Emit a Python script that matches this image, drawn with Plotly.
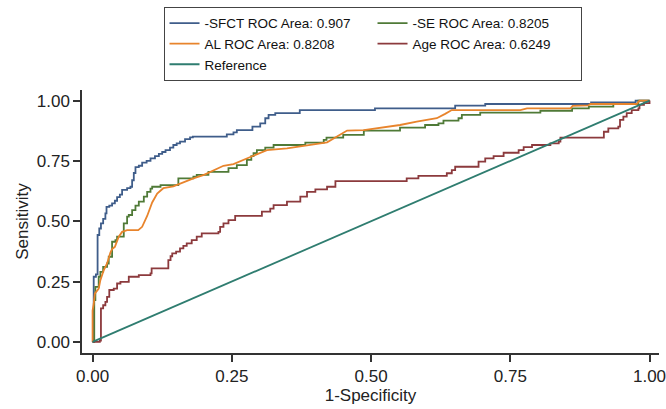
import plotly.graph_objects as go

# ---- data ----
sfct_x = [0, 0.002, 0.006, 0.009, 0.012, 0.015, 0.019, 0.023, 0.025, 0.03, 0.035, 0.04, 0.044, 0.049, 0.053,
          0.062, 0.068, 0.071, 0.074, 0.077, 0.083, 0.089, 0.097, 0.104, 0.112, 0.119, 0.125, 0.131, 0.139,
          0.145, 0.151, 0.157, 0.166, 0.175, 0.18, 0.241, 0.253, 0.259, 0.287, 0.301, 0.31, 0.316, 0.328,
          0.372, 0.507, 0.651, 0.705, 0.895, 0.975, 1.0]
sfct_y = [0, 0.27, 0.28, 0.443, 0.47, 0.491, 0.51, 0.533, 0.56, 0.565, 0.574, 0.585, 0.60, 0.61, 0.63,
          0.637, 0.643, 0.67, 0.70, 0.724, 0.73, 0.743, 0.75, 0.761, 0.77, 0.779, 0.787, 0.795, 0.805,
          0.816, 0.823, 0.83, 0.84, 0.848, 0.851, 0.86, 0.868, 0.878, 0.892, 0.906, 0.927, 0.941, 0.948,
          0.961, 0.968, 0.979, 0.986, 0.993, 1.0, 1.0]

se_x = [0, 0.003, 0.005, 0.011, 0.014, 0.019, 0.026, 0.029, 0.035, 0.041, 0.044, 0.056, 0.062, 0.065, 0.071,
        0.077, 0.083, 0.092, 0.098, 0.104, 0.107, 0.122, 0.154, 0.181, 0.187, 0.208, 0.244, 0.259, 0.277,
        0.285, 0.289, 0.295, 0.31, 0.325, 0.382, 0.415, 0.42, 0.45, 0.487, 0.552, 0.597, 0.621, 0.63,
        0.657, 0.663, 0.696, 0.804, 0.861, 0.891, 0.935, 0.98, 1.0]
se_y = [0, 0.173, 0.228, 0.27, 0.29, 0.311, 0.325, 0.353, 0.415, 0.422, 0.436, 0.491, 0.519, 0.526, 0.546,
        0.565, 0.581, 0.602, 0.622, 0.635, 0.643, 0.65, 0.678, 0.685, 0.692, 0.705, 0.72, 0.733, 0.754,
        0.77, 0.782, 0.795, 0.805, 0.816, 0.826, 0.837, 0.847, 0.858, 0.876, 0.888, 0.899, 0.906, 0.917,
        0.927, 0.941, 0.95, 0.958, 0.968, 0.975, 0.986, 1.0, 1.0]

al_x = [0, 0, 0.002, 0.004, 0.011, 0.014, 0.02, 0.026, 0.032, 0.035, 0.04, 0.047, 0.053, 0.062, 0.082,
        0.089, 0.098, 0.107, 0.116, 0.127, 0.145, 0.157, 0.181, 0.2, 0.211, 0.235, 0.253, 0.277, 0.313,
        0.349, 0.373, 0.397, 0.421, 0.439, 0.457, 0.487, 0.522, 0.552, 0.582, 0.618, 0.633, 0.645, 0.768,
        0.78, 0.858, 0.862, 0.89, 0.894, 0.977, 0.982, 1.0]
al_y = [0, 0.13, 0.157, 0.2, 0.221, 0.256, 0.297, 0.325, 0.37, 0.385, 0.394, 0.436, 0.456, 0.463, 0.463,
        0.477, 0.522, 0.578, 0.615, 0.637, 0.645, 0.657, 0.678, 0.692, 0.705, 0.73, 0.737, 0.761, 0.795,
        0.802, 0.812, 0.819, 0.827, 0.851, 0.876, 0.878, 0.89, 0.899, 0.913, 0.927, 0.945, 0.961, 0.961,
        0.968, 0.968, 0.978, 0.98, 0.986, 0.986, 1.0, 1.0]

age_x = [0, 0.013, 0.015, 0.019, 0.023, 0.026, 0.03, 0.038, 0.044, 0.05, 0.065, 0.083, 0.104, 0.106, 0.136,
         0.14, 0.143, 0.15, 0.157, 0.163, 0.169, 0.178, 0.187, 0.196, 0.226, 0.229, 0.235, 0.244, 0.256,
         0.304, 0.319, 0.325, 0.349, 0.373, 0.385, 0.4, 0.421, 0.436, 0.564, 0.585, 0.636, 0.645, 0.651,
         0.693, 0.705, 0.72, 0.738, 0.765, 0.774, 0.789, 0.822, 0.837, 0.84, 0.918, 0.926, 0.944, 0.947,
         0.953, 0.959, 0.968, 0.98, 0.982, 0.99, 1.0]
age_y = [0, 0.005, 0.139, 0.152, 0.166, 0.187, 0.215, 0.221, 0.242, 0.249, 0.27, 0.277, 0.284, 0.305, 0.339,
         0.355, 0.367, 0.374, 0.388, 0.398, 0.408, 0.422, 0.436, 0.45, 0.456, 0.477, 0.491, 0.505, 0.522,
         0.54, 0.552, 0.567, 0.581, 0.602, 0.622, 0.632, 0.643, 0.666, 0.678, 0.688, 0.699, 0.712, 0.726,
         0.747, 0.761, 0.77, 0.784, 0.795, 0.807, 0.816, 0.823, 0.83, 0.847, 0.871, 0.885, 0.892, 0.92,
         0.934, 0.948, 0.961, 0.968, 0.982, 0.99, 1.0]

ref_x = [0, 1]
ref_y = [0, 1]

tick_vals = [0, 0.25, 0.5, 0.75, 1.0]
tick_text = ["0.00", "0.25", "0.50", "0.75", "1.00"]

names = ["-SFCT ROC Area: 0.907", "-SE ROC Area: 0.8205", "AL ROC Area: 0.8208",
         "Age ROC Area: 0.6249", "Reference"]

FONT = "Liberation Sans, Arial, sans-serif"
LW = 1.8

fig = go.Figure()
fig.add_trace(go.Scatter(x=sfct_x, y=sfct_y, mode="lines", name=names[0],
                         line=dict(color="#3f5d8a", width=LW, shape="hv")))
fig.add_trace(go.Scatter(x=se_x, y=se_y, mode="lines", name=names[1],
                         line=dict(color="#4f7a37", width=LW, shape="hv")))
fig.add_trace(go.Scatter(x=al_x, y=al_y, mode="lines", name=names[2],
                         line=dict(color="#e8842c", width=LW)))
fig.add_trace(go.Scatter(x=age_x, y=age_y, mode="lines", name=names[3],
                         line=dict(color="#8c3a3d", width=LW, shape="hv")))
fig.add_trace(go.Scatter(x=ref_x, y=ref_y, mode="lines", name=names[4],
                         line=dict(color="#2f7d70", width=LW)))

axis_common = dict(
    showline=True, linecolor="#333333", linewidth=1.5,
    ticks="outside", ticklen=7, tickwidth=1.5, tickcolor="#333333",
    tickvals=tick_vals, ticktext=tick_text,
    tickfont=dict(family=FONT, size=17, color="#222222"),
    showgrid=False, zeroline=False, mirror=False,
    automargin=False, ticklabeloverflow="allow",
)

fig.update_layout(
    width=666, height=409,
    margin=dict(l=82, r=7, t=90, b=56, autoexpand=False),
    paper_bgcolor="white", plot_bgcolor="white",
    font=dict(family=FONT, color="#222222"),
    xaxis=dict(range=[-0.019, 1.017],
               title=dict(text="1-Specificity", font=dict(family=FONT, size=17), standoff=2),
               **axis_common),
    yaxis=dict(range=[-0.046, 1.044],
               title=dict(text="Sensitivity", font=dict(family=FONT, size=17), standoff=4),
               **axis_common),
    legend=dict(orientation="h", x=0.5035, xanchor="center", y=1.316, yanchor="top",
                xref="paper", yref="paper",
                entrywidth=163, entrywidthmode="pixels",
                font=dict(family=FONT, size=13.5, color="#111111"),
                bgcolor="white", bordercolor="#444444", borderwidth=1,
                traceorder="normal"),
    showlegend=True,
)

fig.write_html(
    "out.html",
    config={"displayModeBar": False},
    post_script="document.body.style.margin='0px';document.body.style.padding='0px';"
                "document.body.style.overflow='hidden';",
)
